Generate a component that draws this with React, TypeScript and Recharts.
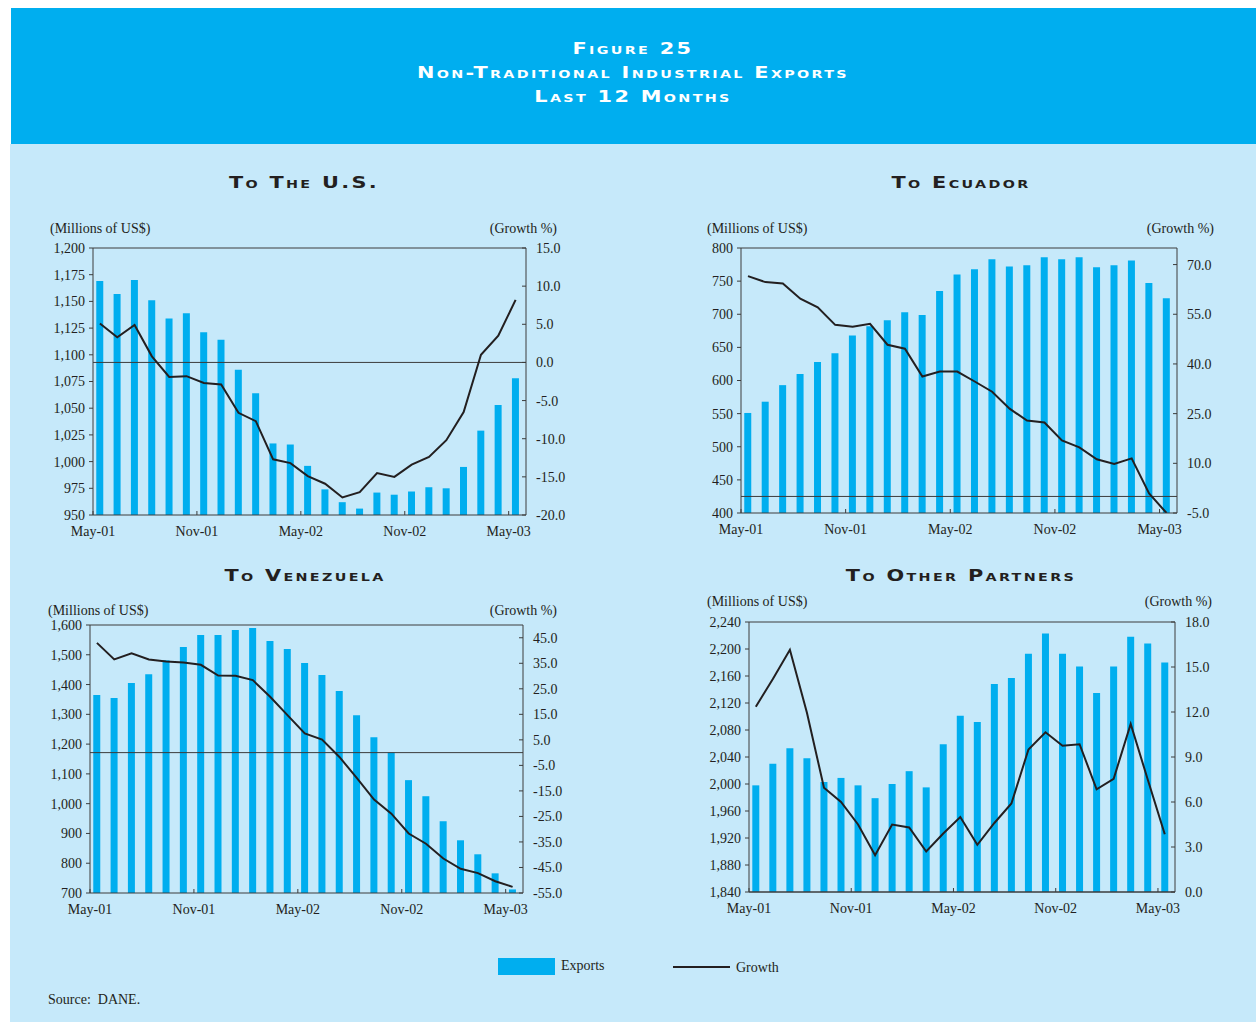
import React from 'react';
import { ComposedChart, Bar, Line, XAxis, YAxis, ReferenceLine } from 'recharts';

const months = [
  'May-01', 'Jun-01', 'Jul-01', 'Aug-01', 'Sep-01', 'Oct-01', 'Nov-01', 'Dec-01', 'Jan-02',
  'Feb-02', 'Mar-02', 'Apr-02', 'May-02', 'Jun-02', 'Jul-02', 'Aug-02', 'Sep-02', 'Oct-02',
  'Nov-02', 'Dec-02', 'Jan-03', 'Feb-03', 'Mar-03', 'Apr-03', 'May-03',
];
const xTickLabels = ['May-01', 'Nov-01', 'May-02', 'Nov-02', 'May-03'];

// To the U.S.
const usExports = [1169, 1157, 1170, 1151, 1134, 1139, 1121, 1114, 1086, 1064, 1017, 1016, 996, 974, 962, 956, 971, 969, 972, 976, 975, 995, 1029, 1053, 1078];
const usGrowth = [5.1, 3.3, 4.9, 0.8, -1.9, -1.8, -2.7, -2.9, -6.6, -7.7, -12.7, -13.2, -14.9, -15.9, -17.7, -17.0, -14.5, -15.0, -13.4, -12.4, -10.2, -6.5, 1.0, 3.5, 8.2];
const usLeftTicks = [950, 975, 1000, 1025, 1050, 1075, 1100, 1125, 1150, 1175, 1200];
const usRightTicks = [-20, -15, -10, -5, 0, 5, 10, 15];

// To Ecuador
const ecExports = [551, 568, 593, 610, 628, 641, 668, 682, 691, 703, 699, 735, 760, 768, 783, 772, 774, 786, 783, 786, 771, 774, 781, 747, 724];
const ecGrowth = [66.5, 64.7, 64.3, 59.7, 57.1, 51.8, 51.2, 52.1, 45.8, 44.6, 36.2, 37.7, 37.7, 34.7, 31.6, 26.5, 22.9, 22.3, 16.9, 14.8, 11.2, 9.8, 11.5, 0.9, -5.0];
const ecLeftTicks = [400, 450, 500, 550, 600, 650, 700, 750, 800];
const ecRightTicks = [-5, 10, 25, 40, 55, 70];

// To Venezuela
const veExports = [1365, 1355, 1405, 1435, 1482, 1526, 1566, 1566, 1583, 1590, 1546, 1519, 1472, 1432, 1378, 1297, 1223, 1172, 1079, 1025, 941, 877, 830, 766, 712];
const veGrowth = [43.0, 36.5, 38.9, 36.5, 35.7, 35.3, 34.4, 30.2, 30.1, 28.4, 21.9, 14.7, 7.5, 5.1, -1.7, -9.9, -18.4, -23.9, -31.7, -35.7, -41.5, -45.5, -47.2, -50.4, -52.6];
const veLeftTicks = [700, 800, 900, 1000, 1100, 1200, 1300, 1400, 1500, 1600];
const veRightTicks = [-55, -45, -35, -25, -15, -5, 5, 15, 25, 35, 45];

// To Other Partners
const otExports = [1998, 2030, 2053, 2038, 2003, 2009, 1998, 1979, 2000, 2019, 1995, 2059, 2101, 2092, 2148, 2157, 2193, 2223, 2193, 2174, 2135, 2174, 2218, 2208, 2180];
const otGrowth = [12.35, 14.2, 16.15, 11.95, 6.95, 6.0, 4.5, 2.45, 4.5, 4.3, 2.7, 3.9, 5.0, 3.15, 4.6, 5.9, 9.5, 10.65, 9.75, 9.85, 6.85, 7.55, 11.2, 7.5, 3.85];
const otLeftTicks = [1840, 1880, 1920, 1960, 2000, 2040, 2080, 2120, 2160, 2200, 2240];
const otRightTicks = [0, 3, 6, 9, 12, 15, 18];

const BAR = '#00AEEF';
const LIGHT = '#C6E9FA';
const DARK = '#231F20';
const AXIS = '#3C3C3C';
const SERIF = '"Liberation Serif", "DejaVu Serif", serif';
const TITLE_FONT = '"DejaVu Sans", "Liberation Sans", sans-serif';

const LW = 60;
const RW = 50;
const TOPM = 6;
const XH = 32;

type PanelProps = {
  left: number; top: number; right: number; bottom: number;
  exports: number[]; growth: number[];
  leftTicks: number[]; rightTicks: number[];
  rightDomain: [number, number];
};

const fmtLeft = (v: number) => v.toLocaleString('en-US');
const fmtRight = (v: number) => v.toFixed(1);
const xTicks = xTickLabels.map((l) => months.indexOf(l));

function Panel(p: PanelProps) {
  const plotW = p.right - p.left;
  const plotH = p.bottom - p.top;
  const data = months.map((m, i) => ({ x: i + 0.4, month: m, exports: p.exports[i], growth: p.growth[i] }));
  const lmin = p.leftTicks[0];
  const lmax = p.leftTicks[p.leftTicks.length - 1];
  const tickStyle = { fontFamily: SERIF, fontSize: 14, fill: DARK };
  return (
    <div style={{ position: 'absolute', left: p.left - LW, top: p.top - TOPM }}>
      <ComposedChart width={plotW + LW + RW} height={plotH + TOPM + XH} data={data}
        margin={{ top: TOPM, right: 0, left: 0, bottom: 0 }}>
        <XAxis dataKey="x" type="number" domain={[0, 25]} ticks={xTicks} allowDataOverflow
          tickFormatter={(v: number) => months[v]} interval={0}
          height={XH} tick={tickStyle} tickSize={-4} tickMargin={15}
          stroke={AXIS} tickLine={{ stroke: AXIS }} />
        <YAxis yAxisId="left" orientation="left" domain={[lmin, lmax]} ticks={p.leftTicks}
          allowDataOverflow tickFormatter={fmtLeft} interval={0} width={LW} tick={tickStyle}
          tickSize={4} tickMargin={4} stroke={AXIS} />
        <YAxis yAxisId="right" orientation="right" domain={p.rightDomain} ticks={p.rightTicks}
          allowDataOverflow tickFormatter={fmtRight} interval={0} width={RW} tick={tickStyle}
          tickSize={-4} tickMargin={14} stroke={AXIS} />
        <Bar yAxisId="left" dataKey="exports" fill={BAR} barSize={7} isAnimationActive={false} />
        <ReferenceLine yAxisId="left" y={lmax} stroke={AXIS} strokeWidth={1} />
        <ReferenceLine yAxisId="right" y={0} stroke={AXIS} strokeWidth={1} />
        <Line yAxisId="right" dataKey="growth" type="linear" stroke={DARK} strokeWidth={2}
          dot={false} isAnimationActive={false} />
      </ComposedChart>
    </div>
  );
}

const txt = (s: React.CSSProperties): React.CSSProperties => ({
  position: 'absolute', fontFamily: SERIF, fontSize: 14, color: DARK, whiteSpace: 'pre', lineHeight: '16px', ...s,
});

const capsStyle = (color: string): React.CSSProperties => ({
  fontFamily: TITLE_FONT, fontWeight: 'bold', fontSize: 16, fontVariant: 'small-caps',
  letterSpacing: '1.8px', color, lineHeight: '22px', textAlign: 'center',
  transform: 'scaleX(1.3)', transformOrigin: 'center', whiteSpace: 'nowrap',
});

const panelTitle = (cx: number, cy: number, label: string) => (
  <div style={{ position: 'absolute', left: cx - 200, width: 400, top: cy - 11, ...capsStyle(DARK) }}>{label}</div>
);

const headerLine = (cy: number, label: string) => (
  <div style={{ position: 'absolute', left: 233, width: 800, top: cy - 11, ...capsStyle('#FFFFFF') }}>{label}</div>
);

export default function App() {
  return (
    <div style={{ position: 'absolute', left: 0, top: 0, width: 1256, height: 1022, overflow: 'hidden' }}>
      <div style={{ position: 'absolute', left: 10, top: 144, width: 1246, height: 878, background: LIGHT }} />
      <div style={{ position: 'absolute', left: 11, top: 8, width: 1245, height: 136, background: BAR }} />
      {headerLine(49, 'Figure 25')}
      {headerLine(73, 'Non-Traditional Industrial Exports')}
      {headerLine(97, 'Last 12 Months')}

      {panelTitle(304, 183, 'To The U.S.')}
      {panelTitle(961, 183, 'To Ecuador')}
      {panelTitle(305, 576, 'To Venezuela')}
      {panelTitle(961, 576, 'To Other Partners')}

      <div style={txt({ left: 50, top: 221 })}>(Millions of US$)</div>
      <div style={txt({ left: 357, width: 200, textAlign: 'right', top: 221 })}>(Growth %)</div>
      <div style={txt({ left: 707, top: 221 })}>(Millions of US$)</div>
      <div style={txt({ left: 1014, width: 200, textAlign: 'right', top: 221 })}>(Growth %)</div>
      <div style={txt({ left: 48, top: 603 })}>(Millions of US$)</div>
      <div style={txt({ left: 357, width: 200, textAlign: 'right', top: 603 })}>(Growth %)</div>
      <div style={txt({ left: 707, top: 594 })}>(Millions of US$)</div>
      <div style={txt({ left: 1012, width: 200, textAlign: 'right', top: 594 })}>(Growth %)</div>

      <Panel left={93} top={248} right={526} bottom={515} exports={usExports} growth={usGrowth}
        leftTicks={usLeftTicks} rightTicks={usRightTicks} rightDomain={[-20, 15]} />
      <Panel left={741} top={248} right={1177} bottom={513} exports={ecExports} growth={ecGrowth}
        leftTicks={ecLeftTicks} rightTicks={ecRightTicks} rightDomain={[-5, 75]} />
      <Panel left={90} top={625} right={523} bottom={893} exports={veExports} growth={veGrowth}
        leftTicks={veLeftTicks} rightTicks={veRightTicks} rightDomain={[-55, 50]} />
      <Panel left={749} top={622} right={1175} bottom={892} exports={otExports} growth={otGrowth}
        leftTicks={otLeftTicks} rightTicks={otRightTicks} rightDomain={[0, 18]} />

      <div style={{ position: 'absolute', left: 498, top: 958, width: 57, height: 17, background: BAR }} />
      <div style={txt({ left: 561, top: 958 })}>Exports</div>
      <div style={{ position: 'absolute', left: 673, top: 966, width: 57, height: 2, background: DARK }} />
      <div style={txt({ left: 736, top: 960 })}>Growth</div>

      <div style={txt({ left: 48, top: 992 })}>Source:  DANE.</div>
    </div>
  );
}
